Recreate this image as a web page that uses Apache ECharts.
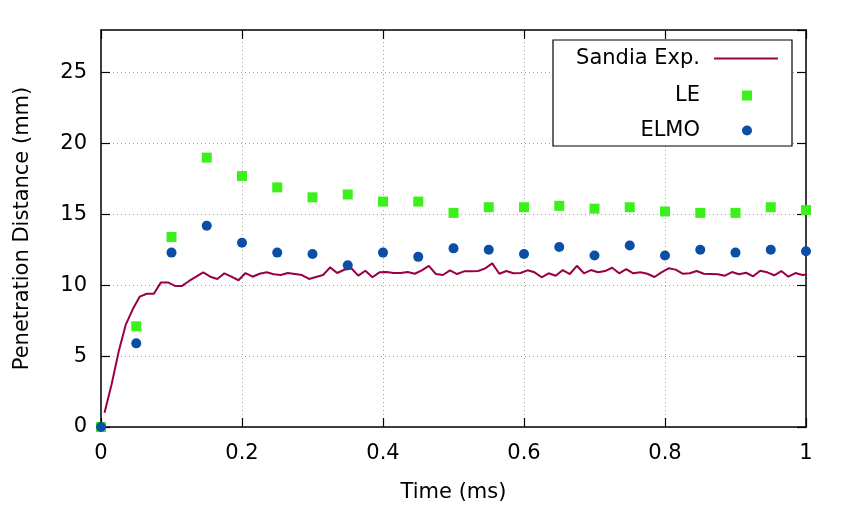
<!DOCTYPE html>
<html>
<head>
<meta charset="utf-8">
<script src="https://cdn.jsdelivr.net/npm/echarts@6/dist/echarts.min.js"></script>
<style>html,body{margin:0;padding:0;background:#fff;}#c{width:845px;height:508px;}</style>
</head>
<body>
<div id="c"></div>
<script>
// Sandia experimental penetration (line)
const sandiaTime = [0.005,0.015,0.025,0.035,0.045,0.055,0.065,0.075,0.085,0.095,
  0.105,0.115,0.125,0.135,0.145,0.155,0.165,0.175,0.185,0.195,
  0.205,0.215,0.225,0.235,0.245,0.255,0.265,0.275,0.285,0.295,
  0.305,0.315,0.325,0.335,0.345,0.355,0.365,0.375,0.385,0.395,
  0.405,0.415,0.425,0.435,0.445,0.455,0.465,0.475,0.485,0.495,
  0.505,0.515,0.525,0.535,0.545,0.555,0.565,0.575,0.585,0.595,
  0.605,0.615,0.625,0.635,0.645,0.655,0.665,0.675,0.685,0.695,
  0.705,0.715,0.725,0.735,0.745,0.755,0.765,0.775,0.785,0.795,
  0.805,0.815,0.825,0.835,0.845,0.855,0.865,0.875,0.885,0.895,
  0.905,0.915,0.925,0.935,0.945,0.955,0.965,0.975,0.985,0.995,1.005];
const sandiaValue = [1.0,3.0,5.3,7.2,8.3,9.2,9.4,9.4,10.2,10.2,
  9.95,9.95,10.3,10.6,10.9,10.6,10.44,10.84,10.6,10.35,
  10.86,10.6,10.81,10.91,10.77,10.72,10.86,10.79,10.72,10.44,
  10.58,10.72,11.26,10.86,11.09,11.2,10.68,11.02,10.56,10.91,
  10.93,10.86,10.86,10.93,10.81,11.05,11.37,10.79,10.72,11.05,
  10.79,10.98,10.98,11.0,11.19,11.54,10.81,11.0,10.84,10.86,
  11.05,10.91,10.56,10.84,10.67,11.07,10.79,11.37,10.84,11.07,
  10.91,11.0,11.23,10.84,11.14,10.84,10.91,10.81,10.58,10.91,
  11.19,11.1,10.81,10.84,11.0,10.81,10.79,10.77,10.67,10.93,
  10.77,10.88,10.63,11.02,10.91,10.7,11.0,10.6,10.86,10.72,10.77];
// Simulation output times
const simTime = [0,0.05,0.1,0.15,0.2,0.25,0.3,0.35,0.4,0.45,0.5,0.55,0.6,0.65,0.7,0.75,0.8,0.85,0.9,0.95,1.0];
const leValue = [0,7.1,13.4,19.0,17.7,16.9,16.2,16.4,15.9,15.9,15.1,15.5,15.5,15.6,15.4,15.5,15.2,15.1,15.1,15.5,15.3];
const elmoValue = [0,5.9,12.3,14.2,13.0,12.3,12.2,11.4,12.3,12.0,12.6,12.5,12.2,12.7,12.1,12.8,12.1,12.5,12.3,12.5,12.4];
const seriesNames = ['Sandia Exp.', 'LE', 'ELMO'];
const xTitle = 'Time (ms)';
const yTitle = 'Penetration Distance (mm)';

const FONT = 'DejaVu Sans';
const FS = 21;
const pair = (xs, ys) => xs.map((x, i) => [x, ys[i]]);

const chart = echarts.init(document.getElementById('c'), null, {renderer: 'canvas'});
const axisLineStyle = {color: '#000', width: 1.5};
const tickStyle = {show: true, inside: true, length: 9, lineStyle: {color: '#000', width: 1.2}};
const gridStyle = {show: true, lineStyle: {color: '#a0a0a0', width: 1, type: [1, 3]}};
const C_LINE = '#990044', C_LE = '#3cf01c', C_ELMO = '#0a4ea6';

chart.setOption({
  animation: false,
  backgroundColor: '#fff',
  grid: {left: 101, right: 39, top: 30, bottom: 80, containLabel: false},
  xAxis: [
    {type: 'value', position: 'bottom', min: 0, max: 1, interval: 0.2,
     axisLine: {show: true, onZero: false, lineStyle: axisLineStyle},
     axisTick: tickStyle, splitLine: gridStyle,
     axisLabel: {fontSize: FS, fontFamily: FONT, color: '#000', margin: 16},
     name: xTitle, nameLocation: 'middle', nameGap: 55,
     nameTextStyle: {fontSize: FS, fontFamily: FONT, color: '#000'}},
    {type: 'value', position: 'top', min: 0, max: 1, interval: 0.2,
     axisLine: {show: true, onZero: false, lineStyle: axisLineStyle},
     axisTick: tickStyle, splitLine: {show: false}, axisLabel: {show: false}}
  ],
  yAxis: [
    {type: 'value', position: 'left', min: 0, max: 28, interval: 5,
     axisLine: {show: true, onZero: false, lineStyle: axisLineStyle},
     axisTick: tickStyle, splitLine: gridStyle,
     axisLabel: {fontSize: FS, fontFamily: FONT, color: '#000', margin: 14, showMaxLabel: false},
     name: yTitle, nameLocation: 'middle', nameGap: 68, nameRotate: 90,
     nameTextStyle: {fontSize: FS, fontFamily: FONT, color: '#000'}},
    {type: 'value', position: 'right', min: 0, max: 28, interval: 5,
     axisLine: {show: true, onZero: false, lineStyle: axisLineStyle},
     axisTick: tickStyle, splitLine: {show: false}, axisLabel: {show: false}}
  ],
  graphic: [{type: 'rect', shape: {x: 553, y: 40, width: 239, height: 106}, z: 3,
             style: {fill: '#fff', stroke: '#000', lineWidth: 1.2}}],
  legend: [
    {data: [seriesNames[0]], icon: 'rect', right: 67, top: 48, padding: 0, align: 'right', itemWidth: 64, itemHeight: 2,
     textStyle: {fontSize: FS, fontFamily: FONT, color: '#000', padding: [0, 9, 0, 0]}},
    {data: [seriesNames[1]], icon: 'rect', right: 93, top: 85, padding: 0, align: 'right', itemWidth: 10, itemHeight: 10,
     textStyle: {fontSize: FS, fontFamily: FONT, color: '#000', padding: [0, 37, 0, 0]}},
    {data: [seriesNames[2]], icon: 'circle', right: 93, top: 120, padding: 0, align: 'right', itemWidth: 10, itemHeight: 10,
     textStyle: {fontSize: FS, fontFamily: FONT, color: '#000', padding: [0, 37, 0, 0]}}
  ],
  series: [
    {name: seriesNames[0], type: 'line', data: pair(sandiaTime, sandiaValue), symbol: 'none',
     clip: true, color: C_LINE, lineStyle: {color: C_LINE, width: 2}, z: 2},
    {name: seriesNames[1], type: 'scatter', data: pair(simTime, leValue), symbol: 'rect', symbolSize: 10,
     clip: false, color: C_LE, itemStyle: {color: C_LE, opacity: 1}, z: 3},
    {name: seriesNames[2], type: 'scatter', data: pair(simTime, elmoValue), symbol: 'circle', symbolSize: 10,
     clip: false, color: C_ELMO, itemStyle: {color: C_ELMO, opacity: 1}, z: 4}
  ]
});
</script>
</body>
</html>
